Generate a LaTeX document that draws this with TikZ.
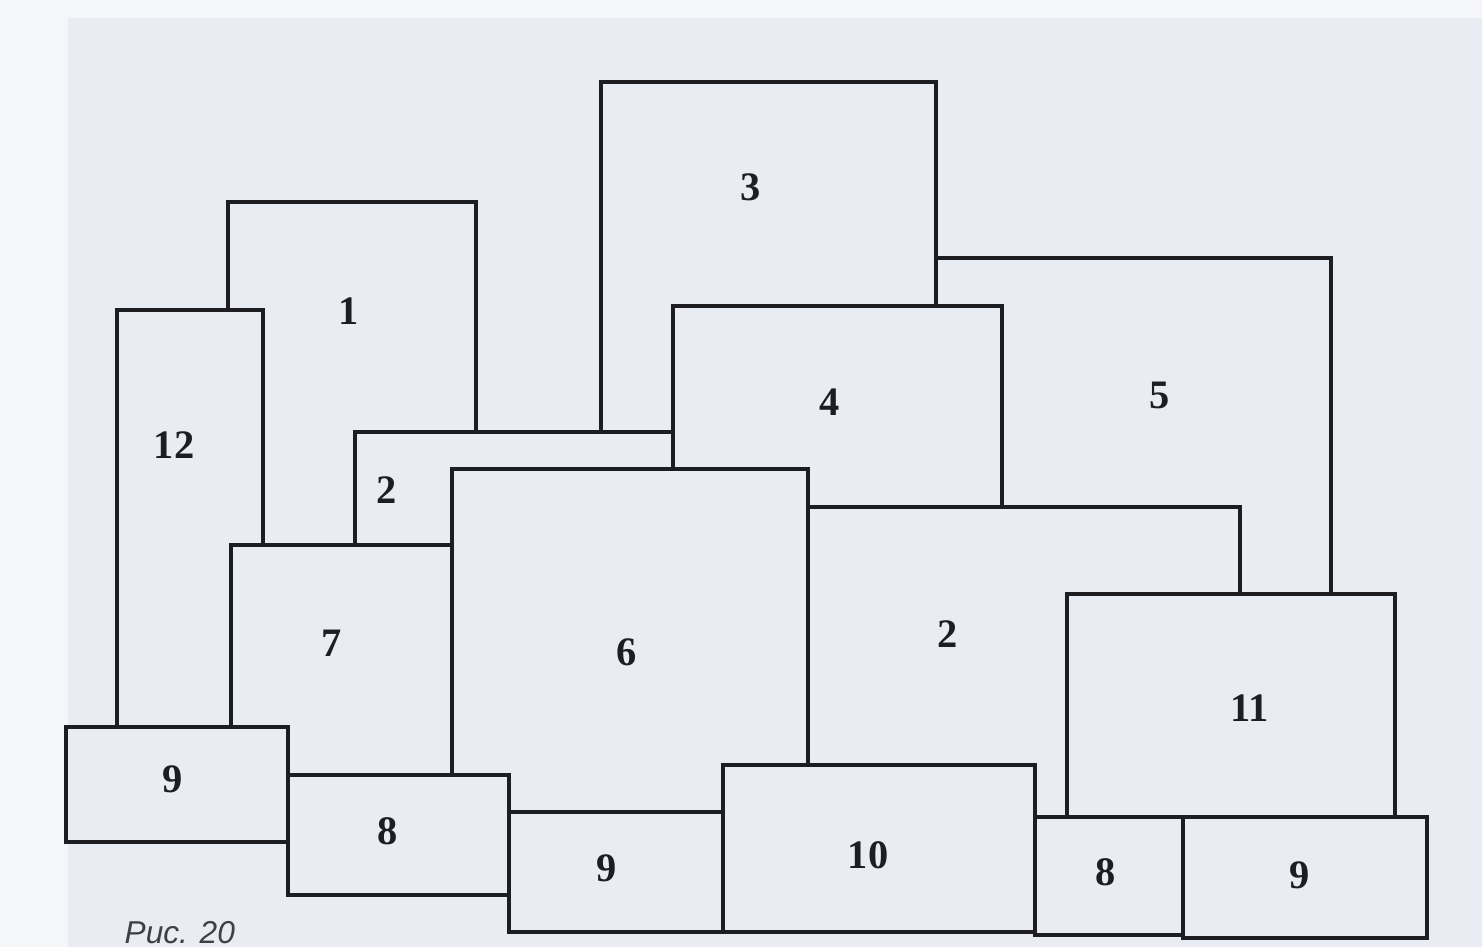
\documentclass[tikz,border=0pt]{standalone}
\usepackage{fontspec}
\setmainfont{Liberation Serif}
\newfontfamily\capfont{Liberation Sans}
\definecolor{pagebg}{HTML}{EAECF4}
\definecolor{margbg}{HTML}{F5F6FA}
\definecolor{inkc}{HTML}{1E1E22}
\begin{document}
\begin{tikzpicture}[x=0.01cm,y=-0.01cm,
  blk/.style={draw=inkc,fill=pagebg,line width=1.2pt,line join=miter},
  num/.style={font=\fontsize{11.5}{12}\selectfont\bfseries,text=inkc,inner sep=0pt},
  figcap/.style={font=\capfont\itshape\fontsize{9}{10}\selectfont,text=inkc!85,inner sep=0pt,anchor=base west}]
\clip (0,0) rectangle (1482,947);
\fill[margbg] (0,0) rectangle (1482,947);
\fill[pagebg] (68,18) rectangle (1482,947);
% back to front
\draw[blk] (936,258) rectangle (1331,594);   % 5
\draw[blk] (601,82) rectangle (936,432);     % 3
\draw[blk] (228,202) rectangle (476,545);    % 1
\draw[blk] (355,432) rectangle (760,545);    % 2 left
\draw[blk] (117,310) rectangle (263,727);    % 12
\draw[blk] (231,545) rectangle (452,775);    % 7
\draw[blk] (673,306) rectangle (1002,507);   % 4
\draw[blk] (452,469) rectangle (808,812);    % 6
\draw[blk] (808,507) rectangle (1240,817);   % 2 right
\draw[blk] (1067,594) rectangle (1395,817);  % 11
\draw[blk] (723,765) rectangle (1035,932);   % 10
\draw[blk] (66,727) rectangle (288,842);     % 9 left
\draw[blk] (288,775) rectangle (509,895);    % 8 left
\draw[blk] (509,812) rectangle (723,932);    % 9 middle
\draw[blk] (1035,817) rectangle (1183,935);  % 8 right
\draw[blk] (1183,817) rectangle (1427,938);  % 9 right
% labels
\node[num] (n3)  at (751,187) {3};
\node[num] (n1)  at (349,311) {1};
\node[num] (n12) at (174,445) {12};
\node[num] (n2a) at (387,490) {2};
\node[num] (n4)  at (830,402) {4};
\node[num] (n5)  at (1160,395) {5};
\node[num] (n7)  at (332,643) {7};
\node[num] (n6)  at (627,652) {6};
\node[num] (n2b) at (948,634) {2};
\node[num] (n11) at (1250,708) {11};
\node[num] (n9a) at (173,779) {9};
\node[num] (n8a) at (388,831) {8};
\node[num] (n9b) at (607,868) {9};
\node[num] (n10) at (868,855) {10};
\node[num] (n8b) at (1106,872) {8};
\node[num] (n9c) at (1300,875) {9};
\node[figcap] (cap) at (124,943) {Рис. 20};
\end{tikzpicture}
\end{document}
